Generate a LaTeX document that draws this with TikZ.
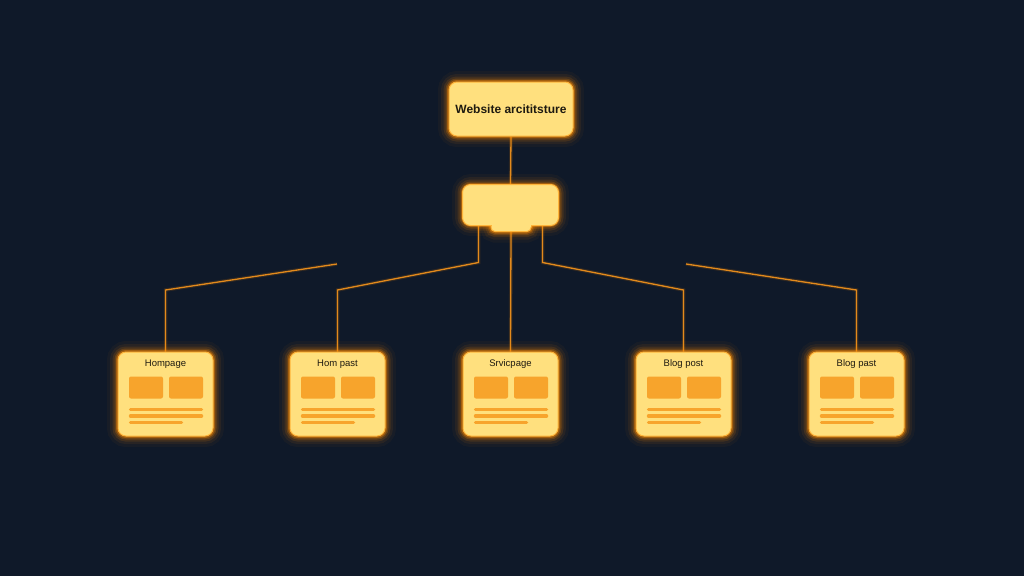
\documentclass[tikz,border=0pt]{standalone}
\usepackage{fontspec}
\setmainfont{Liberation Sans}
\usetikzlibrary{calc}
\pgfdeclarelayer{bottom}
\pgfdeclarelayer{conns}
\pgfsetlayers{bottom,conns,main}
\definecolor{bg}{HTML}{0F1929}
\definecolor{cardfill}{HTML}{FFE07E}
\definecolor{edgeor}{HTML}{FFB53A}
\definecolor{glowor}{HTML}{FF8A00}
\definecolor{blockor}{HTML}{F7A42C}
\definecolor{connor}{HTML}{E38A1C}
\definecolor{txt}{HTML}{1E1A10}
\tikzset{
  glow/.style={
    preaction={draw=glowor, line width=22pt, opacity=0.04},
    preaction={draw=glowor, line width=16pt, opacity=0.07},
    preaction={draw=glowor, line width=11pt, opacity=0.12},
    preaction={draw=glowor, line width=7pt, opacity=0.2},
    preaction={draw=glowor, line width=4pt, opacity=0.4}},
  card/.style={glow, rectangle, rounded corners=8pt, fill=cardfill, draw=edgeor, line width=1pt,
    minimum width=95pt, minimum height=84pt, inner sep=0pt},
  titlebox/.style={glow, rectangle, rounded corners=8pt, fill=cardfill, draw=edgeor, line width=1pt,
    minimum width=124pt, minimum height=54pt, font=\fontsize{12}{14}\selectfont\bfseries, text=txt},
  hubbox/.style={glow, rectangle, rounded corners=8pt, fill=cardfill, draw=edgeor, line width=1pt,
    minimum width=95pt, minimum height=40pt, inner sep=0pt},
  tabbox/.style={glow, rectangle, rounded corners=4pt, fill=cardfill, draw=edgeor, line width=1pt,
    minimum width=40pt, minimum height=12pt, inner sep=0pt},
  lbl/.style={font=\fontsize{9.5}{11}\selectfont, text=txt, inner sep=0pt},
  conn/.style={draw=connor, line width=1.3pt,
    preaction={draw=glowor, line width=3.5pt, opacity=0.15}},
  blk/.style={fill=blockor, rounded corners=2pt},
  bar/.style={draw=blockor, line width=3.5pt, line cap=round},
}
\newcommand\cardinner[1]{%
  \begin{scope}[shift={(#1.north)}]
    \fill[blk] (-36.5,25) rectangle (-2.5,47);
    \fill[blk] (3.5,25) rectangle (37.5,47);
    \draw[bar] (-35,58) -- (36,58);
    \draw[bar] (-35,64.5) -- (36,64.5);
    \draw[bar] (-35,71) -- (16,71);
  \end{scope}}
\begin{document}
\begin{tikzpicture}[x=1pt,y=-1pt]
\begin{pgfonlayer}{bottom}
\fill[bg] (0,0) rectangle (1024,576);
\end{pgfonlayer}
\useasboundingbox (0,0) rectangle (1024,576);

\coordinate (dl) at (337,264);
\coordinate (dr) at (686,264);

% title and hub
\node[titlebox] (title) at (511,109) {Website arcititsture};
\node[hubbox] (hub) at (510.5,205) {};
\node[tabbox] (tab) at (511,225.5) {};
\draw[fill=cardfill, draw=edgeor, line width=1pt, rounded corners=8pt]
  (hub.south west) rectangle (hub.north east);
\fill[cardfill] (491.5,222) rectangle (530.5,227);

% cards
\node[card] (c1) at (165.5,394) {};
\node[card] (c2) at (337.5,394) {};
\node[card] (c3) at (510.5,394) {};
\node[card] (c4) at (683.5,394) {};
\node[card] (c5) at (856.5,394) {};

\begin{pgfonlayer}{conns}
\draw[conn] (title.south) -- (hub.north);
\draw[conn] ([xshift=16pt]hub.south west) -- ++(0,37) -- (c2.north |- 0,290) -- (c2.north);
\draw[conn] (tab.south) -- (c3.north);
\draw[conn] ([xshift=-16pt]hub.south east) -- ++(0,37) -- (c4.north |- 0,290) -- (c4.north);
\draw[conn] (dl) -- (c1.north |- 0,290) -- (c1.north);
\draw[conn] (dr) -- (c5.north |- 0,290) -- (c5.north);
\end{pgfonlayer}

\node[lbl] (l1) at ([yshift=-13pt]c1.north) {Hompage};
\node[lbl] (l2) at ([yshift=-13pt]c2.north) {Hom past};
\node[lbl] (l3) at ([yshift=-13pt]c3.north) {Srvicpage};
\node[lbl] (l4) at ([yshift=-13pt]c4.north) {Blog post};
\node[lbl] (l5) at ([yshift=-13pt]c5.north) {Blog past};

\cardinner{c1}
\cardinner{c2}
\cardinner{c3}
\cardinner{c4}
\cardinner{c5}
\end{tikzpicture}
\end{document}
